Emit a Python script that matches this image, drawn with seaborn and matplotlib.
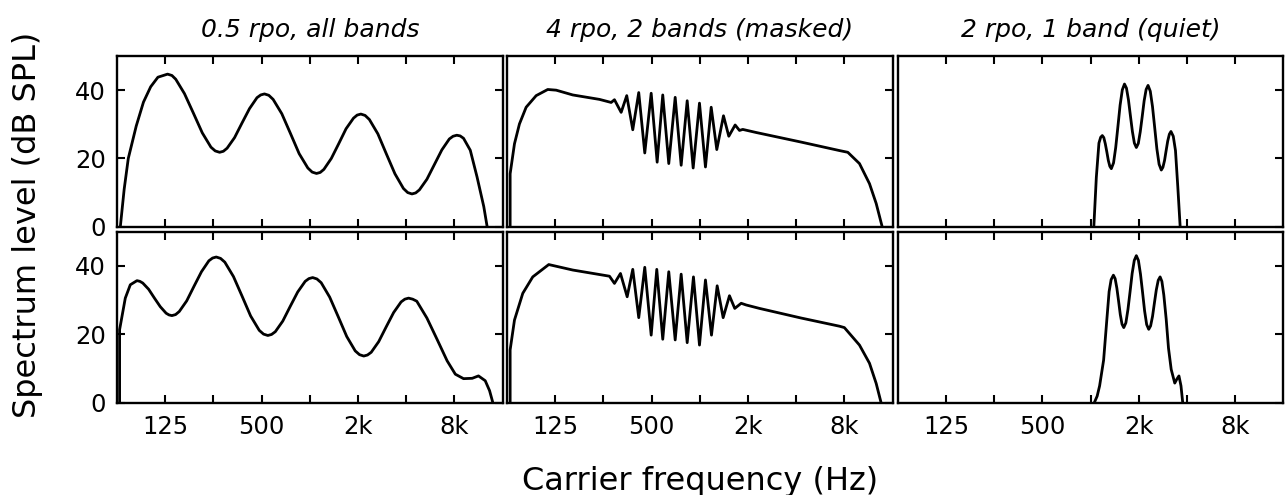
import numpy as np
import pandas as pd
import matplotlib
matplotlib.use("Agg")
import matplotlib.pyplot as plt
from matplotlib.ticker import NullLocator
import seaborn as sns

# x positions are octaves above 62.5 Hz, levels in dB SPL
# top row
oct_a1 = [0.07, 0.15, 0.235, 0.40, 0.55, 0.70, 0.85, 1.05, 1.141,
          1.22, 1.40, 1.585, 1.77, 1.95, 2.039, 2.13, 2.2075,
          2.285, 2.44, 2.595, 2.75, 2.905, 2.9825, 3.06, 3.15,
          3.24, 3.42, 3.60, 3.78, 3.96, 4.05, 4.14, 4.217,
          4.293, 4.447, 4.60, 4.753, 4.907, 4.983, 5.06, 5.148,
          5.237, 5.413, 5.59, 5.767, 5.943, 6.032, 6.12, 6.1975,
          6.275, 6.43, 6.585, 6.74, 6.895, 6.9725, 7.05, 7.12,
          7.19, 7.33, 7.47, 7.61, 7.68]
lev_a1 = [0, 11, 20, 29.5, 36.5, 41.0, 43.8, 44.7, 44.3,
          43.2, 39.0, 33.3, 27.5, 23.3, 22.2, 21.8, 22.1,
          23.0, 26.1, 30.4, 34.6, 37.8, 38.6, 38.9, 38.5,
          37.3, 33.1, 27.3, 21.4, 17.2, 16.0, 15.6, 15.9,
          16.8, 20.0, 24.3, 28.7, 31.8, 32.7, 33.0, 32.6,
          31.4, 27.2, 21.3, 15.5, 11.2, 10.0, 9.6, 9.9,
          10.8, 13.9, 18.2, 22.5, 25.7, 26.5, 26.8, 26.6,
          25.9, 22.4, 14.6, 5.9, 0]

oct_b1 = [0.066, 0.066, 0.156, 0.259, 0.398, 0.606, 0.846, 1.021, 1.365, 1.919, 2.162,
          2.230, 2.369, 2.485, 2.610, 2.734, 2.859, 2.992, 3.116, 3.232, 3.357,
          3.490, 3.614, 3.739, 3.863, 3.994, 4.118, 4.237, 4.353, 4.492, 4.602,
          4.734, 4.824, 4.892,
          5.170, 6.100, 6.900, 7.071, 7.313, 7.521, 7.660, 7.784]
lev_b1 = [0, 15.5, 24.3, 30.1, 35.0, 38.4, 40.2, 40.0, 38.6, 37.3, 36.4,
          37.2, 33.5, 38.4, 28.4, 39.3, 21.6, 39.1, 18.9, 38.6, 18.5,
          37.9, 18.0, 36.9, 17.2, 36.2, 17.5, 35.0, 22.6, 32.5, 26.5,
          29.8, 28.2, 28.5,
          27.6, 24.8, 22.3, 21.8, 18.5, 12.6, 6.8, 0]

oct_c1 = [4.068, 4.120, 4.174, 4.210, 4.244,
          4.275, 4.306, 4.338, 4.369, 4.400, 4.431,
          4.477, 4.522, 4.568, 4.613, 4.659, 4.704,
          4.745, 4.786, 4.827, 4.868, 4.909, 4.950,
          4.991, 5.031, 5.072, 5.112, 5.153, 5.193,
          5.239, 5.285, 5.331, 5.376, 5.422, 5.468,
          5.501, 5.535, 5.568, 5.601, 5.635, 5.668,
          5.716, 5.762, 5.810, 5.859]
lev_c1 = [0, 14.5, 24.5, 26.2, 26.7,
          26.1, 24.3, 21.9, 19.4, 17.7, 17.0,
          18.7, 23.2, 29.4, 35.6, 40.1, 41.8,
          40.6, 37.2, 32.5, 27.9, 24.5, 23.2,
          24.4, 27.8, 32.3, 36.9, 40.2, 41.4,
          39.7, 35.2, 29.0, 22.8, 18.3, 16.6,
          17.4, 19.4, 22.3, 25.1, 27.1, 27.9,
          26.5, 22.3, 11.7, 0]

# bottom row
oct_a2 = [0.055, 0.055, 0.173, 0.277, 0.415, 0.4755,
          0.536, 0.657, 0.778, 0.899, 1.02, 1.0795, 1.14, 1.2167,
          1.293, 1.447, 1.60, 1.753, 1.907, 1.9833, 2.06, 2.149,
          2.238, 2.417, 2.595, 2.773, 2.952, 3.041, 3.13, 3.2075,
          3.285, 3.44, 3.595, 3.75, 3.905, 3.9825, 4.06, 4.148,
          4.237, 4.413, 4.59, 4.767, 4.943, 5.032, 5.12, 5.1975,
          5.275, 5.43, 5.585, 5.74, 5.895, 5.9725, 6.05, 6.135,
          6.22, 6.43, 6.64, 6.85, 7.02, 7.19, 7.37, 7.50, 7.64, 7.73, 7.80]
lev_a2 = [0, 21.4, 30.6, 34.5, 35.7, 35.5,
          35.0, 33.2, 30.6, 28.1, 26.2, 25.7, 25.5, 25.8,
          26.7, 29.8, 34.1, 38.3, 41.5, 42.3, 42.6, 42.2,
          41.1, 36.9, 31.2, 25.4, 21.2, 20.1, 19.7, 20.0,
          20.8, 23.9, 28.2, 32.4, 35.5, 36.3, 36.6, 36.2,
          35.1, 30.9, 25.2, 19.4, 15.2, 14.1, 13.7, 14.0,
          14.8, 17.9, 22.2, 26.4, 29.5, 30.3, 30.6, 30.3,
          29.7, 24.8, 18.6, 12.3, 8.4, 7.1, 7.2, 7.9, 6.5, 3.6, 0]

oct_b2 = [0.066, 0.066, 0.156, 0.328, 0.535, 0.867, 1.365, 2.127,
          2.230, 2.355, 2.494, 2.610, 2.734, 2.859, 2.992, 3.108, 3.232, 3.357,
          3.490, 3.614, 3.739, 3.869, 3.994, 4.118, 4.243, 4.361, 4.485, 4.616,
          4.726, 4.859, 4.963,
          5.239, 6.100, 6.900, 7.000, 7.313, 7.521, 7.660, 7.763]
lev_b2 = [0, 15.5, 24.2, 32.0, 36.8, 40.4, 38.8, 37.0,
          34.9, 37.8, 31.0, 39.0, 24.9, 39.6, 19.8, 39.0, 18.6, 38.3,
          18.4, 37.6, 17.6, 36.8, 16.9, 35.9, 19.8, 34.2, 24.9, 31.3,
          27.6, 29.1, 28.6,
          27.6, 24.8, 22.4, 22.0, 16.9, 11.6, 5.7, 0]

oct_c2 = [4.075, 4.137, 4.188, 4.271, 4.340, 4.385, 4.427, 4.474,
          4.510, 4.546, 4.582, 4.617, 4.653, 4.689,
          4.733, 4.776, 4.820, 4.863, 4.907, 4.950,
          4.993, 5.036, 5.079, 5.121, 5.164, 5.207,
          5.246, 5.286, 5.325, 5.364, 5.404, 5.443,
          5.480, 5.520, 5.569, 5.617, 5.673, 5.747, 5.792, 5.834, 5.876, 5.913]
lev_c2 = [0, 2.0, 5.0, 12.5, 24.7, 32.5, 36.0, 37.3,
          36.3, 33.5, 29.7, 25.8, 23.0, 22.0,
          23.4, 27.3, 32.5, 37.8, 41.6, 43.0,
          41.6, 37.6, 32.3, 26.9, 22.9, 21.5,
          22.5, 25.3, 29.2, 33.0, 35.8, 36.8,
          35.5, 31.5, 24.5, 16.0, 9.8, 5.8, 7.0, 7.9, 5.0, 0]

titles = ["0.5 rpo, all bands", "4 rpo, 2 bands (masked)", "2 rpo, 1 band (quiet)"]
x_ticks = [125, 250, 500, 1000, 2000, 4000, 8000]
x_ticklabels = ["125", "", "500", "", "2k", "", "8k"]
y_ticks = [0, 20, 40]

curves = [[(oct_a1, lev_a1), (oct_b1, lev_b1), (oct_c1, lev_c1)],
          [(oct_a2, lev_a2), (oct_b2, lev_b2), (oct_c2, lev_c2)]]

sns.set_style("ticks")
plt.rcParams["font.family"] = "DejaVu Sans"
plt.rcParams["axes.edgecolor"] = "black"
plt.rcParams["text.color"] = "black"

fig = plt.figure(figsize=(12.88, 4.95), dpi=100)

lefts = [0.0908, 0.3936, 0.6970]
width = 0.2994
bottoms = [0.5420, 0.1859]
heights = [0.3448, 0.3461]

for r in range(2):
    for c in range(3):
        ax = fig.add_axes([lefts[c], bottoms[r], width, heights[r]])
        octs, levs = curves[r][c]
        df = pd.DataFrame({"freq": 62.5 * 2 ** np.array(octs), "level": levs})
        sns.lineplot(data=df, x="freq", y="level", ax=ax, color="black",
                     linewidth=2.0, sort=False, estimator=None)
        ax.lines[0].set_solid_joinstyle("round")
        ax.set_xscale("log", base=2)
        ax.set_xlim(62.5, 16000)
        ax.set_ylim(0, 50)
        ax.set_xticks(x_ticks)
        ax.set_xticklabels(x_ticklabels if r == 1 else [""] * len(x_ticks))
        ax.xaxis.set_minor_locator(NullLocator())
        ax.set_yticks(y_ticks)
        if c != 0:
            ax.set_yticklabels([])
        ax.set_xlabel("")
        ax.set_ylabel("")
        for sp in ax.spines.values():
            sp.set_linewidth(1.7)
            sp.set_color("black")
        ax.tick_params(axis="both", direction="in", length=5.5, width=1.5,
                       top=True, right=True, left=(c == 0), labelsize=17.5,
                       colors="black")
        ax.tick_params(axis="x", pad=8.5)
        ax.tick_params(axis="y", pad=8)
        if r == 0:
            ax.set_title(titles[c], fontsize=18, style="italic", pad=14,
                         color="black")

fig.text(0.5435, 0.0101, "Carrier frequency (Hz)", ha="center", va="baseline",
         fontsize=23)
fig.text(0.021, 0.545, "Spectrum level (dB SPL)", ha="center", va="center",
         rotation=90, fontsize=23)

fig.savefig("out.png", dpi=100)
